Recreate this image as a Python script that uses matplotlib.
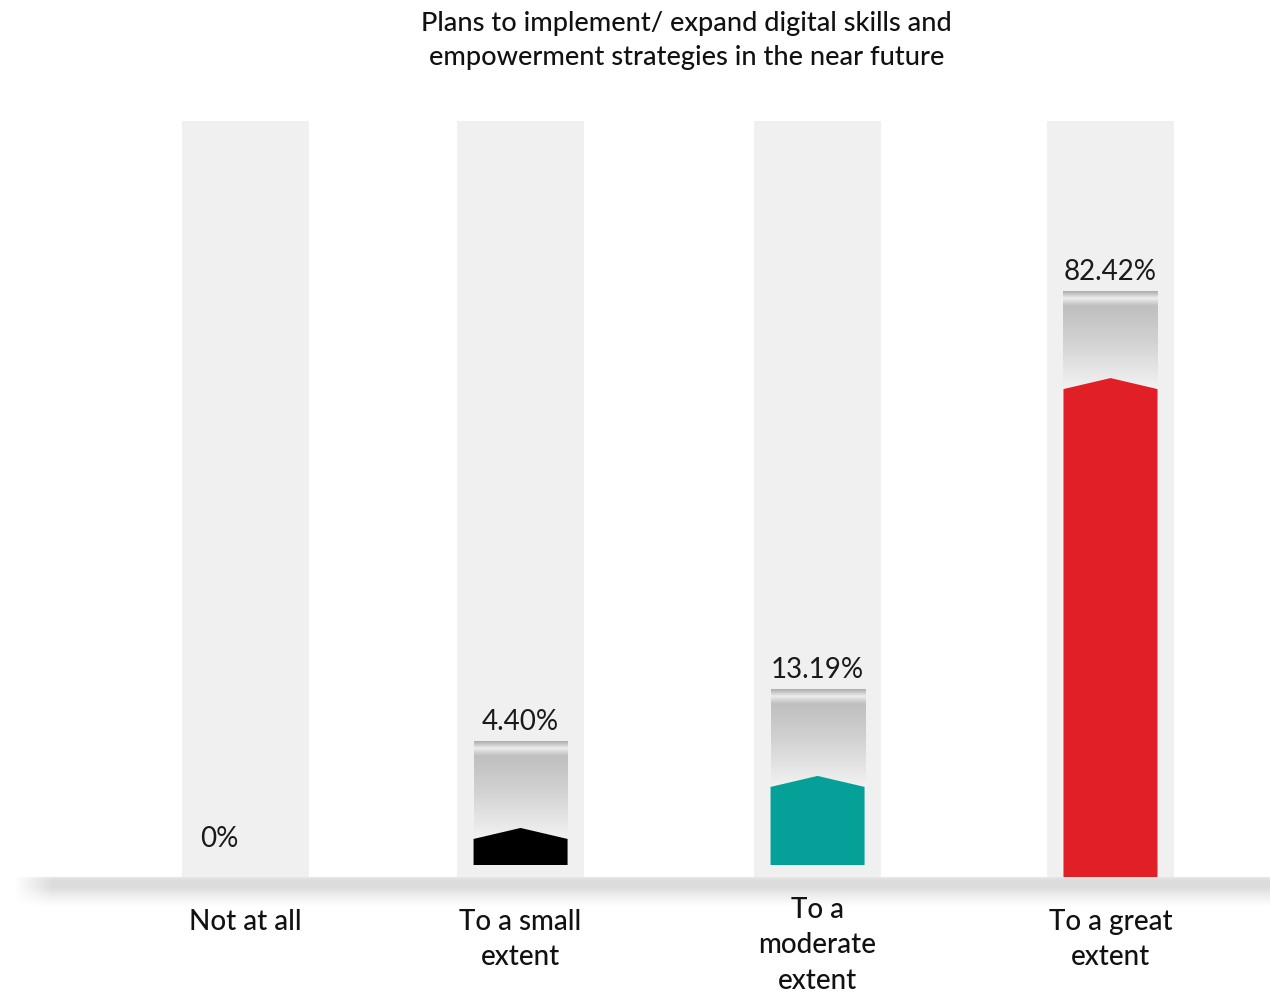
import matplotlib
matplotlib.use("Agg")
import matplotlib.pyplot as plt
import numpy as np
from matplotlib.patches import Polygon, Rectangle

plt.rcParams["font.family"] = ["Lato", "DejaVu Sans"]

# data
categories = ["Not at all", "To a small\nextent", "To a\nmoderate\nextent", "To a great\nextent"]
values = [0.0, 4.40, 13.19, 82.42]
value_labels = ["0%", "4.40%", "13.19%", "82.42%"]
colors = ["#1f1f1f", "#000000", "#05a098", "#e01f26"]
title = "Plans to implement/ expand digital skills and\nempowerment strategies in the near future"

# layout (pixels -> data units)
W, H = 1270, 995
base_px = 878
px = 5.92                      # pixels per percentage point
slot_x = [0, 0.954, 1.984, 3.0]
unit_x = 288.33                # pixels per slot
x0_px = 245.5

fig = plt.figure(figsize=(W / 100, H / 100), dpi=100)
ax = fig.add_axes([0, 0, 1, 1])
xlim = (-x0_px / unit_x, (W - x0_px) / unit_x)
ylim = (-(H - base_px) / px, base_px / px)

col_w = 127 / unit_x
bar_w = 94 / unit_x
col_top = (base_px - 122) / px
cap_h = 98 / px
peak_h = 11 / px
gap = 20 / px
bottoms = [0, 12 / px, 12 / px, 0]

# metallic cap gradient (top -> bottom)
t = np.linspace(0, 1, 200)
g = np.interp(t, [0, 0.03, 0.07, 0.1, 0.15, 0.5, 1.0],
              [0.68, 0.78, 0.93, 0.86, 0.75, 0.82, 0.95])
gc = np.repeat(g[:, None], 2, axis=1)
cap_img = np.dstack([gc, gc, gc])

for i, (x, v) in enumerate(zip(slot_x, values)):
    ax.add_patch(Rectangle((x - col_w / 2, 0), col_w, col_top,
                           facecolor="#f0f0f0", edgecolor="none", zorder=1))
    if v > 0:
        b = bottoms[i]
        sh = b + v
        ax.imshow(cap_img, extent=(x - bar_w / 2, x + bar_w / 2, sh, sh + cap_h),
                  aspect="auto", interpolation="bilinear", zorder=2)
        poly = [(x - bar_w / 2, b), (x + bar_w / 2, b), (x + bar_w / 2, sh),
                (x, sh + peak_h), (x - bar_w / 2, sh)]
        ax.add_patch(Polygon(poly, closed=True, facecolor=colors[i],
                             edgecolor="none", zorder=3))
        ax.text(x, sh + cap_h + gap, value_labels[i], ha="center", va="center",
                fontsize=20, color="#1a1a1a", zorder=4)
    else:
        ax.text(x - 0.09, 39 / px, value_labels[i], ha="center", va="center",
                fontsize=20, color="#1a1a1a", zorder=4)

    n = categories[i].count("\n") + 1
    top = 31 if n < 3 else 19
    ax.text(x, -top / px, categories[i], ha="center", va="top",
            fontsize=20, fontweight="medium", color="#111111",
            linespacing=1.45, zorder=4)

# soft shadow band under the baseline
rows = np.linspace(0, 1, 80)
prof = np.interp(rows, [0, 0.1, 0.35, 0.65, 1.0], [0.4, 0.55, 0.55, 0.25, 0.0])
cols = np.linspace(0, 1, 400)
edge = np.clip((cols - 0.01) / 0.03, 0, 1)
alpha = prof[:, None] * edge[None, :] * 0.35
shadow = np.zeros((80, 400, 4))
shadow[..., :3] = 0.3
shadow[..., 3] = alpha
ax.imshow(shadow, extent=(xlim[0], xlim[1], -30 / px, 0),
          aspect="auto", interpolation="bilinear", zorder=0.5)

ax.set_xlim(*xlim)
ax.set_ylim(*ylim)
ax.axis("off")

fig.text(686.5 / W, 1 - 40.5 / H, title, ha="center", va="center",
         fontsize=19.5, fontweight="medium", color="#111111", linespacing=1.5)

fig.savefig("out.png", dpi=100)
